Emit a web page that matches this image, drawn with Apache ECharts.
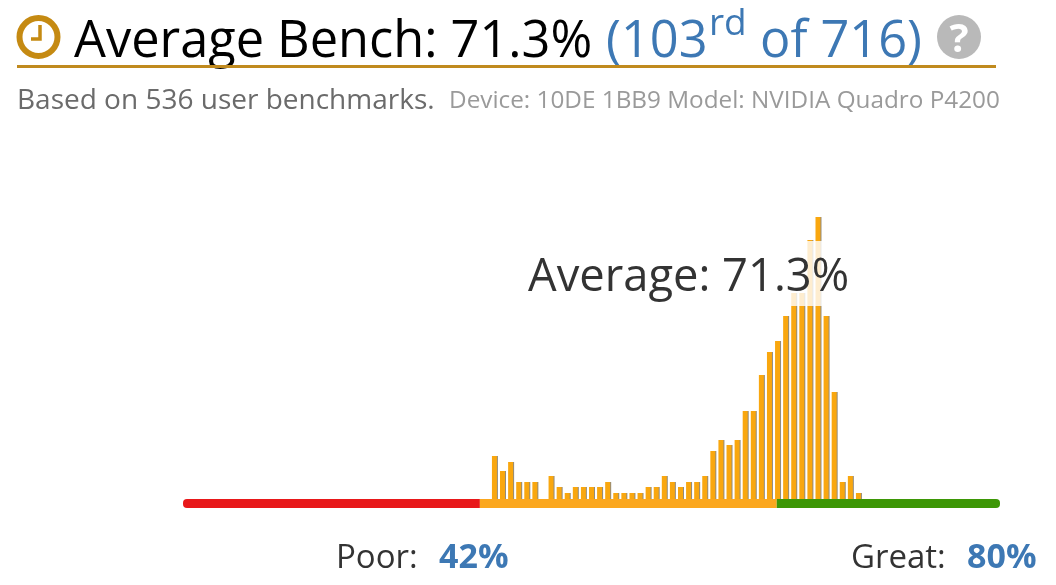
<!DOCTYPE html>
<html>
<head>
<meta charset="utf-8">
<style>
html, body { margin: 0; padding: 0; background: #fff; }
#chart { width: 1056px; height: 585px; }
</style>
<script src="https://cdn.jsdelivr.net/npm/echarts@6/dist/echarts.min.js"></script>
</head>
<body>
<div id="chart"></div>
<script>
// histogram bins, bars (bin 38 is the first non-empty one)
const binCount = 101
const firstBin = 38
const binValues = [
	43, 28, 37, 17, 17, 17, 0, 23, 12, 6, 12, 12, 12, 12, 17, 6, 6, 6, 6, 12, 12, 23,
	17, 12, 17, 17, 23, 48, 59, 54, 59, 88, 88, 124, 147, 158, 183, 206, 206, 259, 282,
	183, 107, 17, 23, 6
]
const categories = Array.from({ length: binCount }, (_, i) => String(i))
const barData = categories.map((_, i) => {
	const v = binValues[i - firstBin]
	return v === undefined ? 0 : v
})

// coloured track under the bars, in bins
const trackNames = ['poor', 'middle', 'great']
const trackValues = [36.7, 36.7, 27.6]
const trackColors = ['#e8181a', '#fba71e', '#3d9706']

const fontName = '"Open Sans", "Noto Sans", sans-serif'
const gold = '#c58a12'
const blue = '#3d78b4'

// y is the baseline of the text
function text(x, y, str, size, color, extra) {
	return {
		type: 'text',
		z: 10,
		x: x,
		y: y - size * 0.76,
		style: Object.assign({
			text: str,
			fontFamily: fontName,
			fontSize: size,
			fill: color
		}, extra)
	}
}

const chart = echarts.init(document.getElementById('chart'), null, { renderer: 'canvas' })

chart.setOption({
	animation: false,
	backgroundColor: '#fff',
	grid: [
		{ left: 183, width: 817, top: 199, height: 300 },
		{ left: 183, width: 817, top: 499, height: 9 }
	],
	xAxis: [
		{ type: 'category', gridIndex: 0, data: categories, show: false },
		{ type: 'value', gridIndex: 1, min: 0, max: binCount, show: false }
	],
	yAxis: [
		{ type: 'value', gridIndex: 0, min: 0, max: 300, show: false },
		{ type: 'category', gridIndex: 1, data: ['track'], show: false }
	],
	series: [
		{
			type: 'bar',
			xAxisIndex: 0,
			yAxisIndex: 0,
			barWidth: 5,
			itemStyle: {
				color: '#f9a70f',
				shadowColor: 'rgba(110,100,80,0.75)',
				shadowOffsetX: 1,
				shadowBlur: 0
			},
			data: barData
		},
		...trackNames.map((name, i) => ({
			type: 'bar',
			name: name,
			xAxisIndex: 1,
			yAxisIndex: 1,
			stack: 'track',
			barWidth: 9,
			itemStyle: {
				color: trackColors[i],
				borderRadius: i === 0 ? [4, 0, 0, 4] : i === 2 ? [0, 4, 4, 0] : 0
			},
			data: [trackValues[i]]
		}))
	],
	graphic: [
		// heading
		{
			type: 'circle',
			z: 10,
			shape: { cx: 38.5, cy: 37, r: 19 },
			style: { fill: 'none', stroke: gold, lineWidth: 6 }
		},
		{
			type: 'polyline',
			z: 10,
			shape: { points: [[40, 25], [40, 39], [31, 39]] },
			style: { fill: 'none', stroke: gold, lineWidth: 3.5 }
		},
		text(74, 55, 'Average Bench: 71.3%', 50.5, '#000'),
		text(606, 55, '(103', 50.5, blue),
		text(709, 34, 'rd', 37, blue),
		text(760, 55, 'of 716)', 50.5, blue),
		{
			type: 'circle',
			z: 10,
			shape: { cx: 959, cy: 37, r: 22 },
			style: { fill: '#b9b9b9' }
		},
		text(959, 51, '?', 40, '#fff', { fontWeight: 'bold', align: 'center' }),
		{
			type: 'rect',
			z: 10,
			shape: { x: 17, y: 65, width: 979, height: 3 },
			style: { fill: '#c08a1e' }
		},
		text(17, 108, 'Based on 536 user benchmarks.', 28, '#6b6b6b'),
		text(449, 108, 'Device: 10DE 1BB9 Model: NVIDIA Quadro P4200', 24.3, '#9a9a9a'),

		// average label sits on a pale panel that washes out the bars behind it
		{
			type: 'rect',
			z: 9,
			shape: { x: 525, y: 241, width: 326, height: 65 },
			style: { fill: 'rgba(255,255,255,0.8)' }
		},
		text(528, 290, 'Average: 71.3%', 45.3, '#333'),

		// ends of the scale
		text(336, 567, 'Poor:', 33, '#333'),
		text(439, 567, '42%', 34, blue, { fontWeight: 'bold' }),
		text(851, 567, 'Great:', 33, '#333'),
		text(967, 567, '80%', 34, blue, { fontWeight: 'bold' })
	]
})
</script>
</body>
</html>
